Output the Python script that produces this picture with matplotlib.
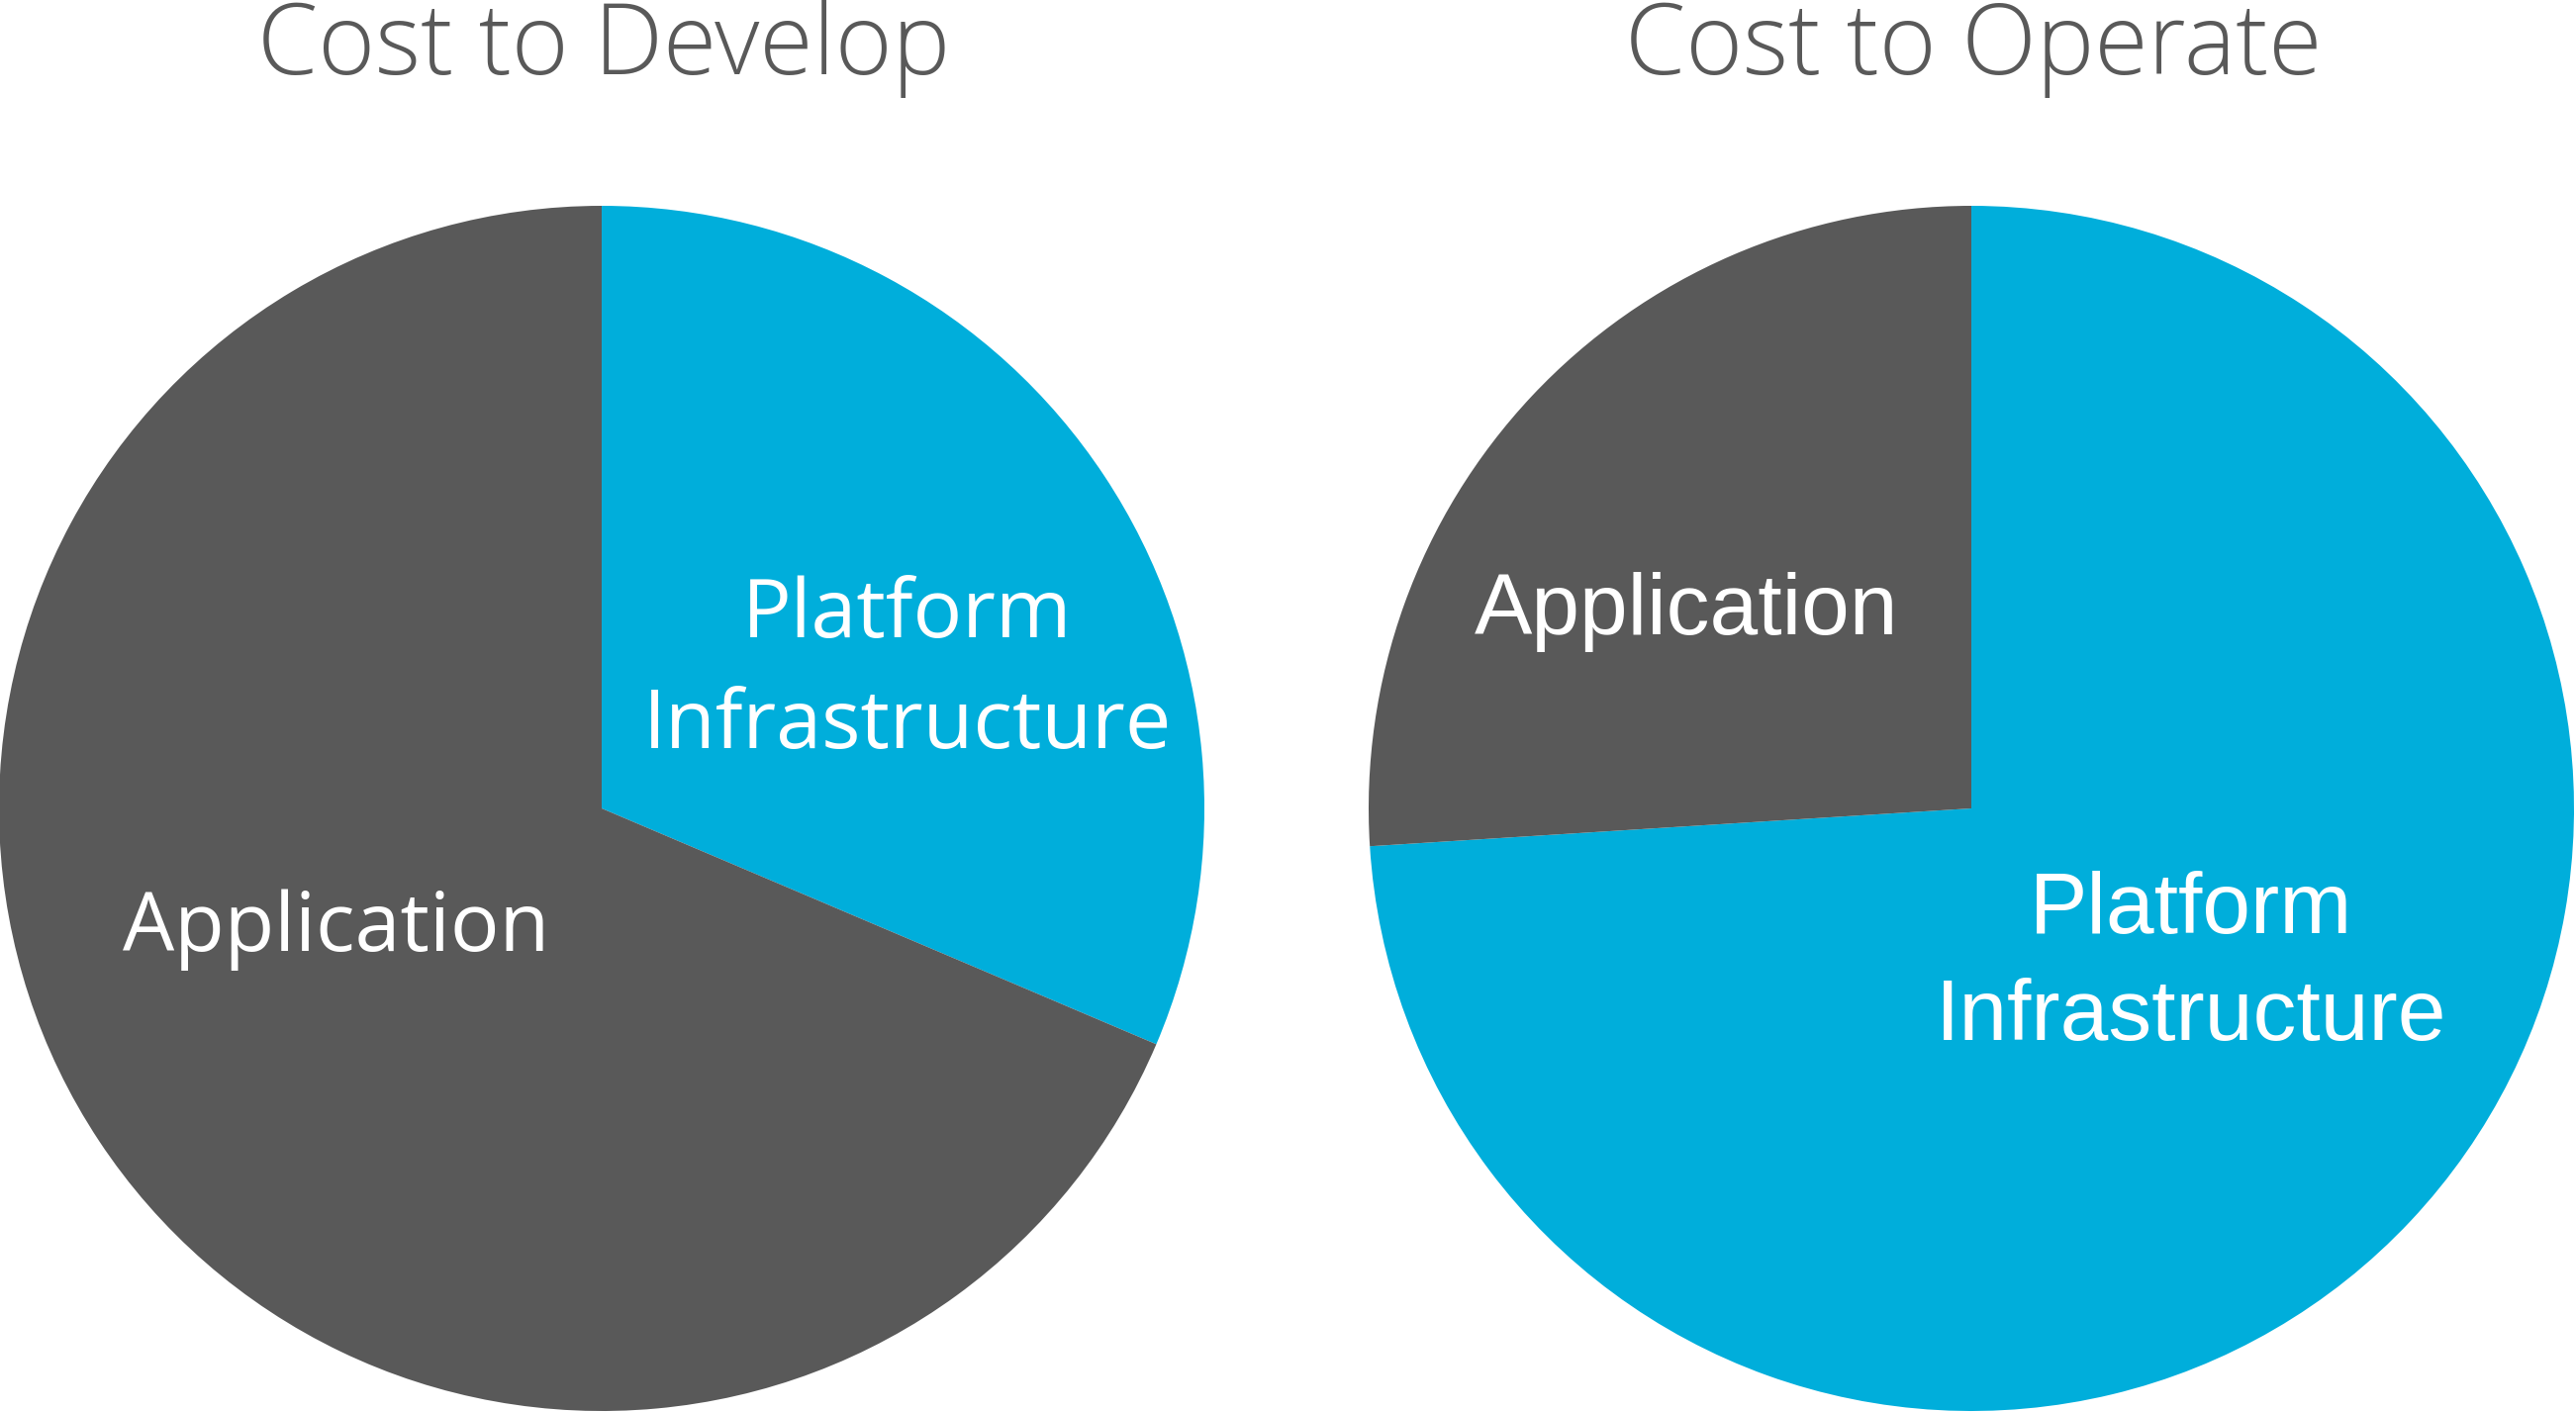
import matplotlib
matplotlib.use("Agg")
import matplotlib.pyplot as plt

# Data
titles = ["Cost to Develop", "Cost to Operate"]
categories = ["Platform\nInfrastructure", "Application"]
develop_values = [31.4, 68.6]   # Platform Infrastructure, Application (%)
operate_values = [74.0, 26.0]   # Platform Infrastructure, Application (%)

BLUE = "#00AEDB"
GRAY = "#595959"
W, H = 2603, 1427

fig = plt.figure(figsize=(W / 100, H / 100), dpi=100)
ax = fig.add_axes([0, 0, 1, 1])

R = 609
centers = [(608, H - 817), (1992, H - 817)]

for vals, c in zip([develop_values, operate_values], centers):
    ax.pie(vals, colors=[BLUE, GRAY], startangle=90, counterclock=False,
           center=c, radius=R, wedgeprops=dict(linewidth=0), frame=True)

ax.set_xlim(0, W)
ax.set_ylim(0, H)
ax.set_aspect("equal")
ax.axis("off")

# titles
for t, cx in zip(titles, [610, 1994]):
    ax.text(cx, H - 75, t, ha="center", va="baseline", color=GRAY,
            fontsize=71, family="Open Sans", fontweight="light")

# left pie labels (Segoe-like)
lf = dict(ha="center", va="baseline", color="white", fontsize=59.5, family="Open Sans")
ax.text(917, H - 644, "Platform", **lf)
ax.text(917, H - 756, "Infrastructure", **lf)
ax.text(340, H - 961, "Application", **lf)

# right pie labels (Arial-like)
rf = dict(ha="center", va="baseline", color="white", fontsize=63, family="Liberation Sans")
ax.text(2214, H - 943, "Platform", **rf)
ax.text(2214, H - 1051, "Infrastructure", **rf)
ax.text(1704, H - 641, "Application", **rf)

fig.savefig("out.png", dpi=100, facecolor="white")
